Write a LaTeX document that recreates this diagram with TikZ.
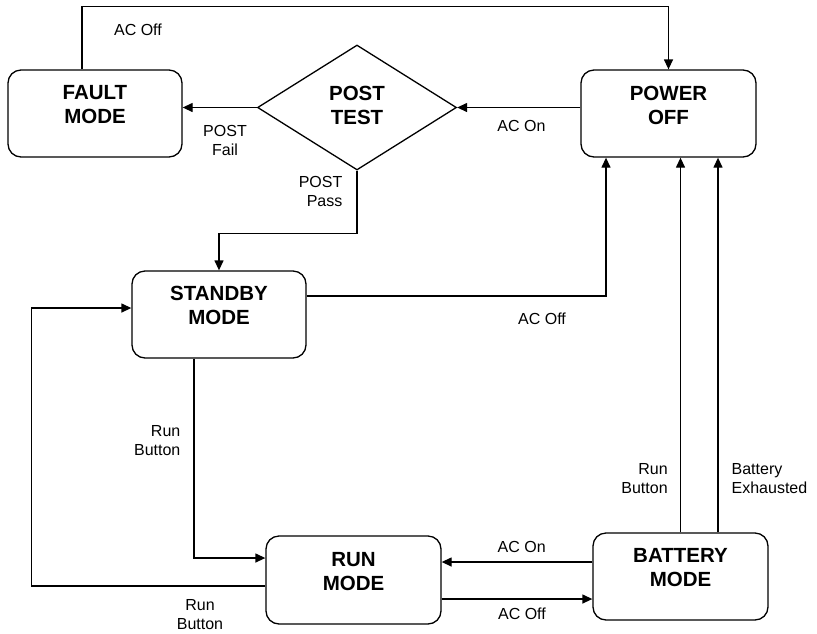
\documentclass[tikz,border=0pt]{standalone}
\usepackage{fontspec}
\setmainfont{Liberation Sans}
\usetikzlibrary{shapes.geometric,arrows.meta,calc}
\begin{document}
\begin{tikzpicture}[x=1pt,y=-1pt,line width=1.3pt,
  box/.style={draw,rounded corners=13pt,inner sep=0pt,minimum width=174pt,minimum height=87pt},
  ttl/.style={font=\fontsize{20.5}{24}\selectfont\bfseries,align=center,inner sep=0pt},
  lab/.style={font=\fontsize{16}{19}\selectfont,inner sep=0pt},
  arr/.style={-{Triangle[length=10pt,width=9pt]}}]
\useasboundingbox (0,0) rectangle (817,633);
% boxes
\node[box] (fault) at (95,113.5) {};
\node[box,minimum width=175pt] (power) at (668.5,113.5) {};
\node[box] (standby) at (219,314.5) {};
\node[box,minimum width=175pt,minimum height=88pt] (run) at (353.5,580) {};
\node[box,minimum width=175pt] (battery) at (680.5,576.5) {};
\node[draw,diamond,minimum width=199pt,minimum height=125pt,inner sep=0pt] (post) at (357,107.5) {};
% titles
\node[ttl] (faultt) at (95,105) {FAULT\\MODE};
\node[ttl] (powert) at (668.5,105) {POWER\\OFF};
\node[ttl] (standbyt) at (219,305) {STANDBY\\MODE};
\node[ttl] (runt) at (353.5,571.5) {RUN\\MODE};
\node[ttl] (batteryt) at (680.5,568) {BATTERY\\MODE};
\node[ttl] (postt) at (357,105) {POST\\TEST};
% connectors
\draw[arr] ($(fault.north)+(-13,0)$) -- ++(0,-63) -| (power.north);
\draw[arr] (post.east -| power.west) -- (post.east);
\draw[arr] (post.west) -- (post.west -| fault.east);
\draw[arr] (post.south) -- ++(0,63) -| (standby.north);
\draw[arr] ($(standby.east)+(0,-18.5)$) -| ($(power.south)+(-62.5,0)$);
\draw[arr] ($(standby.south)+(-25,0)$) |- ($(run.west)+(0,-22)$);
\draw[arr] ($(run.west)+(0,6)$) -| ($(standby.west)+(-100,-6.5)$) -- ($(standby.west)+(0,-6.5)$);
\coordinate (bw1) at ($(battery.west)+(0,-14.5)$);
\draw[arr] (bw1) -- (bw1 -| run.east);
\coordinate (re1) at ($(run.east)+(0,19)$);
\draw[arr] (re1) -- (re1 -| battery.west);
\draw[arr] (battery.north) -- (battery.north |- power.south);
\coordinate (bn2) at ($(battery.north)+(37.5,0)$);
\draw[arr] (bn2) -- (bn2 |- power.south);
% labels
\node[lab] (l1) at (138,30) {AC Off};
\node[lab,align=center] (l2) at (225,140.7) {POST\\Fail};
\node[lab,align=right,anchor=east] (l3) at (343,191) {POST\\Pass};
\node[lab] (l4) at (521.5,126) {AC On};
\node[lab,align=right,anchor=east] (l5) at (181,440.7) {Run\\Button};
\node[lab,align=center] (l6) at (200,614.8) {Run\\Button};
\node[lab] (l7) at (542,318.5) {AC Off};
\node[lab,align=right,anchor=east] (l8) at (668.3,478.7) {Run\\Button};
\node[lab,align=left,anchor=west] (l9) at (731,478.7) {Battery\\Exhausted};
\node[lab] (l10) at (521.7,547) {AC On};
\node[lab] (l11) at (522,613.5) {AC Off};
\end{tikzpicture}
\end{document}
